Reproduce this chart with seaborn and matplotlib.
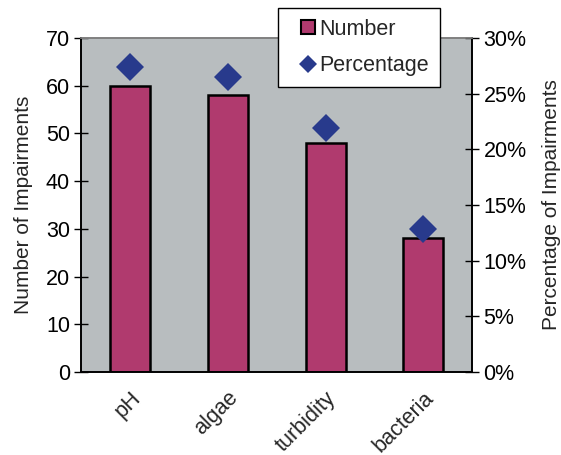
import matplotlib
matplotlib.use("Agg")
import matplotlib.pyplot as plt
import seaborn as sns
import pandas as pd
import numpy as np
from matplotlib.lines import Line2D
from matplotlib.ticker import FuncFormatter

categories = ["pH", "algae", "turbidity", "bacteria"]
numbers = [60, 58, 48, 28]
percentages = [27.4, 26.5, 21.9, 12.8]

bar_color = "#B03A6E"
dia_color = "#283A8C"
bg_color = "#B8BDBF"

sns.set_theme(style="white")
plt.rcParams["font.family"] = ["Liberation Sans", "DejaVu Sans"]

df = pd.DataFrame({"category": categories, "number": numbers, "percentage": percentages})

fig = plt.figure(figsize=(5.61, 4.55), dpi=100)
ax = fig.add_axes([0.1444, 0.1824, 0.842 - 0.1444, 0.9165 - 0.1824])
ax.set_facecolor(bg_color)

sns.barplot(data=df, x="category", y="number", color=bar_color, saturation=1,
            width=0.41, edgecolor="black", linewidth=1.8, ax=ax, zorder=2)

ax2 = ax.twinx()
sns.pointplot(data=df, x="category", y="percentage", color=dia_color,
              linestyle="none", marker="D", markersize=14.5, markeredgewidth=0,
              errorbar=None, ax=ax2)

for a in (ax, ax2):
    a.set_xlim(-0.5, 3.5)
ax.set_ylim(0, 70)
ax2.set_ylim(0, 30)
ax.set_yticks(np.arange(0, 71, 10))
ax2.set_yticks(np.arange(0, 31, 5))
ax2.yaxis.set_major_formatter(FuncFormatter(lambda v, p: f"{int(v)}%"))

ax.set_xticks(np.arange(-0.5, 4.0, 1.0))
ax.set_xticklabels([""] * 5)
ax.set_xticks(np.arange(4), minor=True)
ax.set_xticklabels(categories, minor=True, rotation=45, ha="right",
                   rotation_mode="anchor", fontsize=15.5)
ax.tick_params(axis="x", which="major", direction="inout", length=12, width=1, color="#333333")
ax.tick_params(axis="x", which="minor", length=0, pad=11)
ax2.tick_params(axis="x", which="both", length=0, labelbottom=False)
ax2.set_xticks([])

ax.tick_params(axis="y", direction="inout", length=10, width=1, labelsize=15.5, colors="black", pad=3)
ax2.tick_params(axis="y", direction="inout", length=10, width=1, labelsize=15.5, colors="black", pad=3)

ax.set_xlabel("")
ax.set_ylabel("Number of Impairments", fontsize=15, labelpad=9)
ax2.set_xlabel("")
ax2.set_ylabel("Percentage of Impairments", fontsize=15, labelpad=11)

for a in (ax, ax2):
    for s in ("left", "right", "bottom"):
        a.spines[s].set_color("black")
        a.spines[s].set_linewidth(1.2)
    a.spines["top"].set_color("#808080")
    a.spines["top"].set_linewidth(1.2)

handles = [
    Line2D([0], [0], marker="s", color="none", markerfacecolor=bar_color,
           markeredgecolor="black", markeredgewidth=1.5, markersize=10.5),
    Line2D([0], [0], marker="D", color="none", markerfacecolor=dia_color,
           markeredgewidth=0, markersize=9),
]
leg = ax2.legend(handles, ["Number", "Percentage"], loc="upper left",
                 bbox_to_anchor=(0.4955, 0.982), bbox_transform=fig.transFigure,
                 borderaxespad=0, fontsize=15.5, frameon=True, fancybox=False,
                 framealpha=1, edgecolor="black", labelspacing=0.72,
                 handlelength=1.8, handletextpad=-0.38, borderpad=0.5)
leg.get_frame().set_linewidth(1.0)
leg.set_zorder(10)

fig.savefig("out.png", dpi=100)
